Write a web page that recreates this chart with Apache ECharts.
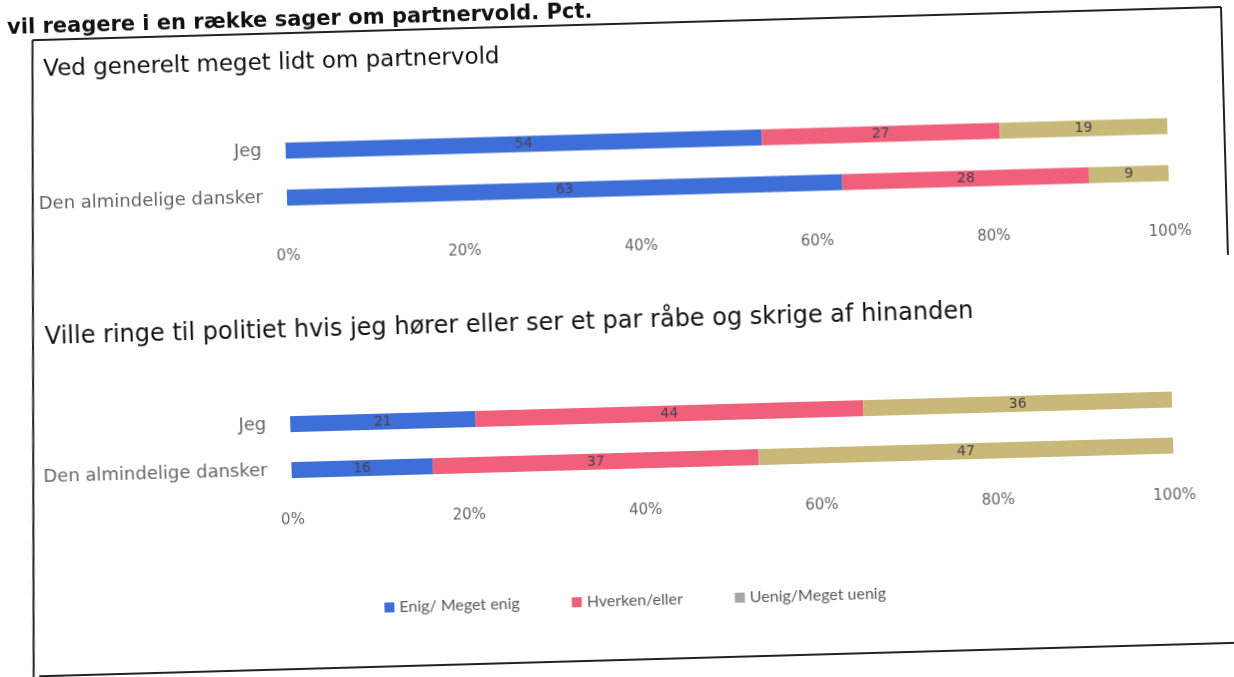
<!DOCTYPE html>
<html>
<head>
<meta charset="utf-8">
<title>Partnervold</title>
<script src="https://cdn.jsdelivr.net/npm/echarts@6/dist/echarts.min.js"></script>
<style>
  html, body { margin: 0; padding: 0; background: #fff; overflow: hidden; }
  #chart {
    width: 1234px;
    height: 677px;
    /* scannet side ligger lidt skævt */
    transform: rotate(-1.6deg);
    transform-origin: 617px 338px;
  }
</style>
</head>
<body>
<div id="chart"></div>
<script>
// Data
const categories = ['Jeg', 'Den almindelige dansker'];
const legendNames = ['Enig/ Meget enig', 'Hverken/eller', 'Uenig/Meget uenig'];

// Panel 1: Ved generelt meget lidt om partnervold
const panel1Enig = [54, 63];
const panel1Hverken = [27, 28];
const panel1Uenig = [19, 9];

// Panel 2: Ville ringe til politiet ...
const panel2Enig = [21, 16];
const panel2Hverken = [44, 37];
const panel2Uenig = [36, 47];

const mainTitle = 'vil reagere i en række sager om partnervold. Pct.';
const panelTitles = [
  'Ved generelt meget lidt om partnervold',
  'Ville ringe til politiet hvis jeg hører eller ser et par råbe og skrige af hinanden',
];

const colors = ['#3e6fd8', '#f0607a', '#c9b978'];
const wide = '"DejaVu Sans", sans-serif';
const font = 'Lato, "Open Sans", sans-serif';

const chart = echarts.init(document.getElementById('chart'));

function xAxisFor(gridIndex, margin) {
  return {
    type: 'value',
    gridIndex,
    min: 0,
    max: 100,
    interval: 20,
    axisLine: { show: false },
    axisTick: { show: false },
    splitLine: { show: false },
    axisLabel: {
      formatter: '{value}%',
      color: '#666',
      fontFamily: wide,
      fontSize: 15,
      margin,
    },
  };
}

function yAxisFor(gridIndex) {
  return {
    type: 'category',
    gridIndex,
    data: categories,
    inverse: true,
    axisLine: { show: false },
    axisTick: { show: false },
    axisLabel: {
      color: '#666',
      fontFamily: wide,
      fontSize: 18,
      margin: 24,
    },
  };
}

function barSeries(name, data, idx, axisIndex) {
  return {
    name,
    type: 'bar',
    stack: 'panel' + axisIndex,
    xAxisIndex: axisIndex,
    yAxisIndex: axisIndex,
    data,
    barWidth: 16,
    itemStyle: { color: colors[idx] },
    label: {
      show: true,
      position: 'inside',
      color: '#4a4050',
      fontFamily: wide,
      fontSize: 14,
    },
  };
}

const option = {
  animation: false,
  backgroundColor: '#fff',
  color: colors,
  title: [
    {
      text: mainTitle,
      left: 11,
      top: -4,
      textStyle: { fontFamily: wide, fontSize: 21, fontWeight: 'bold', color: '#111' },
    },
    {
      text: panelTitles[0],
      left: 46,
      top: 38,
      textStyle: { fontFamily: wide, fontSize: 23, fontWeight: 'normal', color: '#111' },
    },
    {
      text: panelTitles[1],
      left: 40,
      top: 305,
      textStyle: { fontFamily: wide, fontSize: 24, fontWeight: 'normal', color: '#111' },
    },
  ],
  legend: {
    top: 588,
    left: 372,
    itemWidth: 10,
    itemHeight: 10,
    itemGap: 52,
    icon: 'rect',
    textStyle: { fontFamily: font, fontSize: 16, color: '#595959' },
    data: [
      { name: legendNames[0] },
      { name: legendNames[1] },
      { name: legendNames[2], itemStyle: { color: '#a6a6a6' } },
    ],
  },
  grid: [
    { left: 291, right: 61, top: 118, height: 94 },
    { left: 288, right: 64, top: 392, height: 92 },
  ],
  xAxis: [xAxisFor(0, 28), xAxisFor(1, 20)],
  yAxis: [yAxisFor(0), yAxisFor(1)],
  series: [
    barSeries(legendNames[0], panel1Enig, 0, 0),
    barSeries(legendNames[1], panel1Hverken, 1, 0),
    barSeries(legendNames[2], panel1Uenig, 2, 0),
    barSeries(legendNames[0], panel2Enig, 0, 1),
    barSeries(legendNames[1], panel2Hverken, 1, 1),
    barSeries(legendNames[2], panel2Uenig, 2, 1),
  ],
  // rammen om figuren
  graphic: [
    { type: 'line', shape: { x1: 41, y1: 24, x2: 1230, y2: 24 }, style: { stroke: '#222', lineWidth: 2 } },
    { type: 'line', shape: { x1: 41, y1: 24, x2: 24, y2: 677 }, style: { stroke: '#222', lineWidth: 2 } },
    { type: 'line', shape: { x1: 1230, y1: 24, x2: 1230, y2: 272 }, style: { stroke: '#222', lineWidth: 2 } },
    { type: 'line', shape: { x1: 30, y1: 660, x2: 1230, y2: 660 }, style: { stroke: '#222', lineWidth: 2 } },
  ],
};

chart.setOption(option);
</script>
</body>
</html>
